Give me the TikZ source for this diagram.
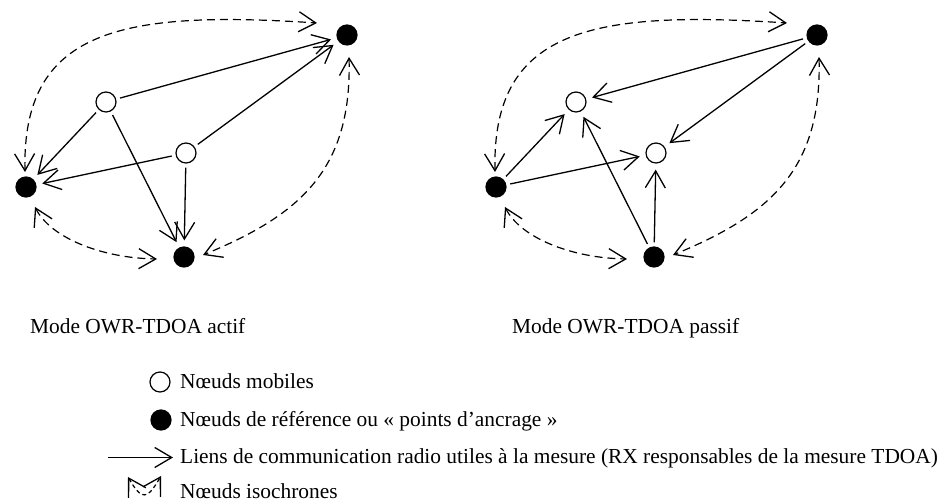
\documentclass[tikz,border=0pt]{standalone}
\usepackage{fontspec}
\setmainfont{Liberation Serif}
\usetikzlibrary{arrows.meta}
\tikzset{
  every picture/.style={x=1pt, y=1pt, font=\fontsize{21.4}{25}\selectfont},
  mob/.style={circle, draw, line width=1.2pt, fill=white, minimum size=20pt, inner sep=0pt},
  refn/.style={mob, fill=black},
  barb/.tip={Straight Barb[length=17pt, width=20pt, line width=1.3pt]},
  link/.style={-barb, line width=1.3pt, shorten >=6pt, shorten <=4pt},
  iso/.style={barb-barb, dash pattern=on 8pt off 5pt, line width=1.2pt},
  txt/.style={anchor=base west, inner sep=0pt},
}
\begin{document}
\begin{tikzpicture}
  \useasboundingbox (0,0) rectangle (941,502);
  % active mode
  \node[refn] (a1) at (347,467) {};
  \node[refn] (a2) at (26,315) {};
  \node[refn] (a3) at (184,245) {};
  \node[mob] (m1) at (106,400) {};
  \node[mob] (m2) at (186,349) {};
  \draw[link] (m1) -- (a1); \draw[link] (m2) -- (a1);
  \draw[link] (m1) -- (a2); \draw[link] (m2) -- (a2);
  \draw[link] (m1) -- (a3); \draw[link] (m2) -- (a3);
  \draw[iso] ([shift={(-1,15)}]a2.center) .. controls +(-3,142) and +(-197,13) .. ([shift={(-30,12)}]a1.center);
  \draw[iso] ([shift={(9,-20)}]a2.center) .. controls +(15,-30) and +(-57,1) .. ([shift={(-27,-2)}]a3.center);
  \draw[iso] ([shift={(2,-22)}]a1.center) .. controls +(3,-113) and +(97,40) .. ([shift={(19,2)}]a3.center);
  \node[txt] (tact) at (30,168) {Mode OWR-TDOA actif};
  % passive mode
  \node[refn] (b1) at (817,467) {};
  \node[refn] (b2) at (496,315) {};
  \node[refn] (b3) at (654,245) {};
  \node[mob] (n1) at (576,400) {};
  \node[mob] (n2) at (656,349) {};
  \draw[link] (b1) -- (n1); \draw[link] (b1) -- (n2);
  \draw[link] (b2) -- (n1); \draw[link] (b2) -- (n2);
  \draw[link] (b3) -- (n1); \draw[link] (b3) -- (n2);
  \draw[iso] ([shift={(-1,15)}]b2.center) .. controls +(-3,142) and +(-197,13) .. ([shift={(-30,12)}]b1.center);
  \draw[iso] ([shift={(9,-20)}]b2.center) .. controls +(15,-30) and +(-57,1) .. ([shift={(-27,-2)}]b3.center);
  \draw[iso] ([shift={(2,-22)}]b1.center) .. controls +(3,-113) and +(97,40) .. ([shift={(19,2)}]b3.center);
  \node[txt] (tpas) at (512,168) {Mode OWR-TDOA passif};
  % legend
  \node[mob] (kmob) at (160,120) {};
  \node[txt] (tmob) at (180,113) {Nœuds mobiles};
  \node[refn] (kref) at (161,82) {};
  \node[txt] (tref) at (180,75) {Nœuds de référence ou « points d’ancrage »};
  \coordinate (kl0) at (108,44.5);
  \coordinate (kl1) at (173,44.5);
  \draw[link, shorten >=0pt, shorten <=0pt] (kl0) -- (kl1);
  \node[txt] (tlink) at (180,38) {Liens de communication radio utiles à la mesure (RX responsables de la mesure TDOA)};
  \coordinate (ki0) at (128,25);
  \coordinate (ki1) at (161,26);
  \draw[iso, dash pattern=on 4pt off 3pt] (ki0) .. controls +(14,-24) and +(-14,-24) .. (ki1);
  \node[txt] (tiso) at (180,3) {Nœuds isochrones};
\end{tikzpicture}
\end{document}
